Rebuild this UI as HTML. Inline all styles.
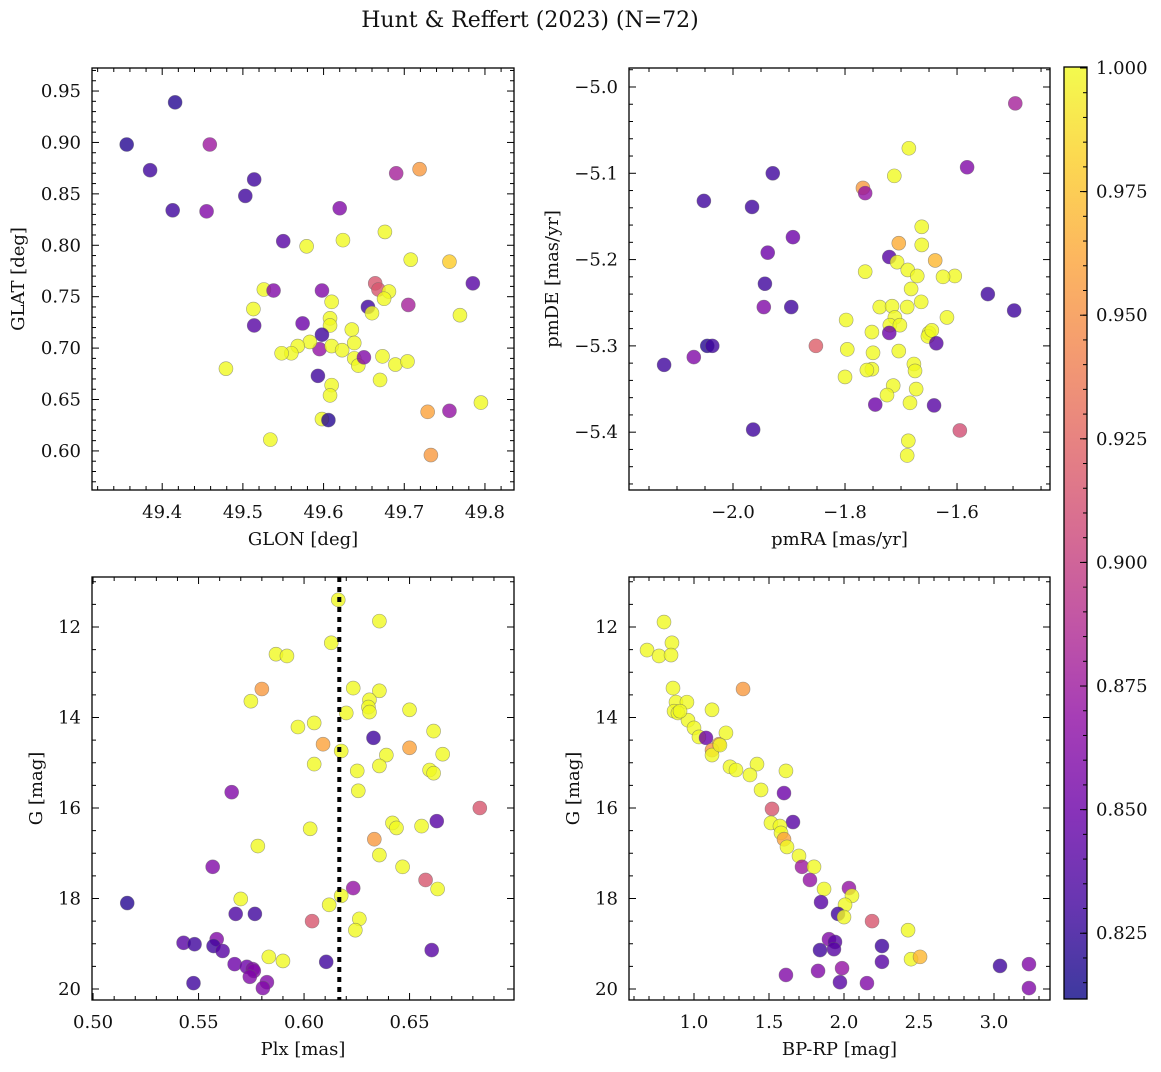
<!DOCTYPE html>
<html><head><meta charset="utf-8"><style>
body{margin:0;background:#fff;}
svg text{font-family:"DejaVu Serif","Liberation Serif",serif;fill:#111;}
</style></head><body>
<svg id="fig" width="1161" height="1067" xmlns="http://www.w3.org/2000/svg">
<defs>
<linearGradient id="plasma" x1="0" y1="1" x2="0" y2="0">
<stop offset="0" stop-color="#0d0887"/><stop offset="0.1" stop-color="#41049d"/><stop offset="0.2" stop-color="#6a00a8"/><stop offset="0.3" stop-color="#8f0da4"/><stop offset="0.4" stop-color="#b12a90"/><stop offset="0.5" stop-color="#cc4778"/><stop offset="0.6" stop-color="#e16462"/><stop offset="0.7" stop-color="#f2844b"/><stop offset="0.8" stop-color="#fca636"/><stop offset="0.9" stop-color="#fcce25"/><stop offset="1" stop-color="#f0f921"/>
</linearGradient>
</defs>
<text x="530" y="27" font-size="22" text-anchor="middle">Hunt &amp; Reffert (2023) (N=72)</text>
</svg>
<script>
// ---- data ----
const glon=[49.356,49.416,49.385,49.459,49.413,49.455,49.514,49.503,49.550,49.579,49.620,49.624,49.690,49.719,49.676,49.513,49.526,49.538,49.514,49.574,49.598,49.756,49.785,49.708,49.769,49.664,49.668,49.655,49.705,49.681,49.675,49.660,49.610,49.608,49.608,49.598,49.595,49.583,49.568,49.560,49.548,49.479,49.593,49.610,49.623,49.635,49.638,49.638,49.643,49.650,49.673,49.670,49.689,49.704,49.610,49.608,49.598,49.606,49.534,49.729,49.756,49.795,49.733];
const glat=[0.898,0.939,0.873,0.898,0.834,0.833,0.864,0.848,0.804,0.799,0.836,0.805,0.870,0.874,0.813,0.738,0.757,0.756,0.722,0.724,0.756,0.784,0.763,0.786,0.732,0.763,0.757,0.740,0.742,0.755,0.748,0.734,0.745,0.729,0.722,0.713,0.699,0.706,0.702,0.695,0.695,0.680,0.673,0.702,0.698,0.718,0.705,0.690,0.683,0.691,0.692,0.669,0.684,0.687,0.664,0.654,0.631,0.630,0.611,0.638,0.639,0.647,0.596];
const prob1=[0.82,0.82,0.83,0.875,0.83,0.86,0.83,0.83,0.84,1,0.86,1,0.88,0.955,1,1,1,0.86,0.84,0.85,0.86,0.98,0.84,1,1,0.915,0.915,0.83,0.88,1,1,1,1,1,1,0.83,0.87,1,1,1,1,1,0.83,1,1,1,1,1,1,0.86,1,1,1,1,1,1,1,0.82,1,0.96,0.87,1,0.955];

const pmra=[-1.496,-1.582,-1.686,-1.712,-1.768,-1.764,-1.929,-2.052,-1.966,-1.893,-1.938,-1.663,-1.663,-1.704,-1.721,-1.639,-1.707,-1.688,-1.764,-1.604,-1.625,-1.671,-1.682,-1.664,-1.545,-1.498,-1.943,-1.945,-1.896,-1.738,-1.716,-1.689,-1.711,-1.618,-1.720,-1.702,-1.752,-1.798,-1.721,-1.650,-1.652,-1.645,-1.637,-1.704,-1.852,-2.046,-2.037,-2.070,-2.123,-1.796,-1.750,-1.752,-1.800,-1.677,-1.675,-1.761,-1.714,-1.725,-1.673,-1.684,-1.746,-1.641,-1.595,-1.964,-1.687,-1.689];
const pmde=[-5.019,-5.093,-5.071,-5.103,-5.117,-5.123,-5.100,-5.132,-5.139,-5.174,-5.192,-5.162,-5.183,-5.181,-5.197,-5.201,-5.203,-5.212,-5.214,-5.219,-5.220,-5.219,-5.234,-5.249,-5.240,-5.259,-5.228,-5.255,-5.255,-5.255,-5.254,-5.255,-5.267,-5.267,-5.276,-5.276,-5.284,-5.270,-5.285,-5.285,-5.289,-5.282,-5.297,-5.306,-5.300,-5.300,-5.300,-5.313,-5.322,-5.304,-5.308,-5.327,-5.336,-5.321,-5.329,-5.328,-5.346,-5.357,-5.350,-5.366,-5.368,-5.369,-5.398,-5.397,-5.410,-5.427];
const prob2=[0.88,0.86,1,1,0.955,0.87,0.83,0.83,0.83,0.85,0.85,1,1,0.965,0.84,0.97,1,1,1,1,1,1,1,1,0.83,0.83,0.83,0.86,0.83,1,1,1,1,1,1,1,1,1,0.85,1,1,1,0.84,1,0.92,0.82,0.83,0.86,0.83,1,1,1,1,1,1,1,1,1,1,1,0.85,0.84,0.91,0.83,1,1];

const plx=[0.6162,0.6357,0.6129,0.5867,0.5919,0.5800,0.5748,0.6233,0.6357,0.6310,0.6305,0.6310,0.6500,0.5971,0.6048,0.6200,0.6614,0.6329,0.6090,0.6176,0.6500,0.6657,0.6390,0.6048,0.6357,0.6252,0.6595,0.6614,0.5657,0.6257,0.6833,0.6029,0.6419,0.6438,0.6629,0.6557,0.6333,0.6357,0.5781,0.6467,0.5567,0.6576,0.6633,0.5162,0.5700,0.6233,0.6176,0.6119,0.5676,0.5767,0.6038,0.6262,0.6243,0.5429,0.5481,0.5586,0.5571,0.5614,0.6605,0.5833,0.5900,0.6105,0.5671,0.5729,0.5757,0.5762,0.5743,0.5824,0.5476,0.5805];
const gmag3=[11.40,11.87,12.35,12.60,12.64,13.37,13.64,13.35,13.41,13.61,13.77,13.88,13.83,14.21,14.12,13.90,14.30,14.45,14.59,14.74,14.67,14.81,14.83,15.03,15.07,15.18,15.16,15.23,15.65,15.62,16.00,16.46,16.33,16.44,16.29,16.40,16.69,17.04,16.84,17.30,17.30,17.59,17.79,18.10,18.01,17.77,17.94,18.14,18.34,18.34,18.50,18.45,18.70,18.98,19.01,18.90,19.05,19.16,19.14,19.29,19.38,19.40,19.45,19.51,19.56,19.60,19.73,19.85,19.87,19.98];
const prob3=[1,1,1,1,1,0.955,1,1,1,1,1,1,1,1,1,1,1,0.83,0.96,1,0.96,1,1,1,1,1,1,1,0.86,1,0.915,1,1,1,0.84,1,0.955,1,1,1,0.86,0.915,1,0.82,1,0.87,1,1,0.835,0.83,0.915,1,1,0.84,0.83,0.86,0.83,0.84,0.84,1,1,0.83,0.85,0.85,0.86,0.86,0.86,0.86,0.83,0.86];

const bprp=[0.800,0.687,0.853,0.767,0.847,0.860,0.880,0.953,0.867,0.893,1.327,0.960,0.907,1.120,1.000,1.033,1.080,1.167,1.120,1.213,1.120,1.173,1.240,1.280,1.420,1.373,1.613,1.447,1.600,1.660,1.520,1.513,1.573,1.580,1.600,1.620,1.700,1.720,1.800,1.773,1.867,2.033,2.053,1.847,2.007,1.960,2.000,2.187,2.427,1.900,1.940,1.933,1.840,2.253,2.447,2.507,2.253,3.040,3.233,1.987,1.827,1.613,1.973,2.153,3.233];
const gmag4=[11.89,12.51,12.35,12.64,12.62,13.35,13.66,13.66,13.86,13.90,13.37,14.06,13.86,13.83,14.23,14.43,14.45,14.59,14.72,14.34,14.83,14.61,15.09,15.16,15.03,15.27,15.18,15.60,15.67,16.31,16.02,16.33,16.40,16.55,16.69,16.86,17.06,17.30,17.30,17.59,17.79,17.77,17.94,18.08,18.14,18.34,18.41,18.50,18.70,18.90,18.96,19.12,19.14,19.05,19.34,19.29,19.40,19.49,19.45,19.54,19.60,19.69,19.85,19.87,19.98];
const prob4=[1,1,1,1,1,1,1,1,1,1,0.955,1,1,1,1,1,0.85,0.96,0.955,1,1,1,1,1,1,1,1,1,0.85,0.84,0.915,1,1,1,0.96,1,1,0.875,1,0.87,1,0.87,1,0.84,1,0.83,1,0.915,1,0.86,0.84,0.84,0.83,0.83,1,0.97,0.84,0.83,0.86,0.87,0.86,0.86,0.84,0.86,0.86];

const cbTicks=[0.825,0.850,0.875,0.900,0.925,0.950,0.975,1.000];
const plxLine=0.6167;

// ---- helpers ----
const NS="http://www.w3.org/2000/svg";
const fig=document.getElementById('fig');
function mk(tag,attrs,parent){const e=document.createElementNS(NS,tag);for(const k in attrs)e.setAttribute(k,attrs[k]);(parent||fig).appendChild(e);return e;}
const stops=[[13,8,135],[65,4,157],[106,0,168],[143,13,164],[177,42,144],[204,71,120],[225,100,98],[242,132,75],[252,166,54],[252,206,37],[240,249,33]];
const VMIN=0.8117,VMAX=1.0002;
function plasma(v){let t=(v-VMIN)/(VMAX-VMIN);t=Math.max(0,Math.min(1,t))*10;const i=Math.min(9,Math.floor(t)),f=t-i;const a=stops[i],b=stops[i+1];return 'rgb('+a.map((c,k)=>Math.round(c+(b[k]-c)*f)).join(',')+')';}
function fmt(v,d){return v<0?'\u2212'+(-v).toFixed(d):v.toFixed(d);}

function panel(o){
  const g=mk('g',{});
  
  
  const sx=v=>o.x0+(v-o.xmin)/(o.xmax-o.xmin)*(o.x1-o.x0);
  const sy=v=>o.y1-(v-o.ymin)/(o.ymax-o.ymin)*(o.y1-o.y0);
  const pg=mk('g',{},g);
  
  
  for(let i=0;i<o.xs.length;i++){
    const c=mk('circle',{cx:sx(o.xs[i]),cy:sy(o.ys[i]),r:7,fill:plasma(o.ps[i]),'fill-opacity':0.8,stroke:'#666','stroke-opacity':0.6,'stroke-width':0.6},pg);
    
    
  }
  if(o.vline!==undefined){
    const l=mk('line',{x1:sx(o.vline),x2:sx(o.vline),y1:o.y0,y2:o.y1,stroke:'#000','stroke-width':4,'stroke-dasharray':'5,5'},g);
    
    
  }
  const tg=mk('g',{stroke:'#000','stroke-width':1},g);
  const eps=1e-9;
  const xlo=Math.min(o.xmin,o.xmax),xhi=Math.max(o.xmin,o.xmax);
  const ylo=Math.min(o.ymin,o.ymax),yhi=Math.max(o.ymin,o.ymax);
  for(let k=Math.ceil(xlo/o.xminor-eps);k*o.xminor<=xhi+eps;k++){
    const v=k*o.xminor,x=sx(v);const maj=Math.abs(v/o.xmajor-Math.round(v/o.xmajor))<1e-6;const L=maj?7:4;
    mk('line',{x1:x,x2:x,y1:o.y1,y2:o.y1-L},tg);mk('line',{x1:x,x2:x,y1:o.y0,y2:o.y0+L},tg);
    if(maj){const t=mk('text',{x:x,y:o.y1+28,'font-size':18,'text-anchor':'middle',stroke:'none'},g);t.textContent=fmt(v,o.xd);}
  }
  for(let k=Math.ceil(ylo/o.yminor-eps);k*o.yminor<=yhi+eps;k++){
    const v=k*o.yminor,y=sy(v);const maj=Math.abs(v/o.ymajor-Math.round(v/o.ymajor))<1e-6;const L=maj?7:4;
    mk('line',{x1:o.x0,x2:o.x0+L,y1:y,y2:y},tg);mk('line',{x1:o.x1,x2:o.x1-L,y1:y,y2:y},tg);
    if(maj){const t=mk('text',{x:o.x0-11,y:y+6,'font-size':18,'text-anchor':'end',stroke:'none'},g);t.textContent=fmt(v,o.yd);}
  }
  const fr=mk('rect',{x:o.x0,y:o.y0,width:o.x1-o.x0,height:o.y1-o.y0,fill:'none',stroke:'#000','stroke-width':1.3},g);
  
  
  const xt=mk('text',{x:(o.x0+o.x1)/2,y:o.y1+55,'font-size':18,'text-anchor':'middle'},g);
  xt.textContent=o.xlabel;
  
  
  const yt=mk('text',{x:0,y:0,'font-size':18,'text-anchor':'middle',transform:'translate('+o.ylx+','+((o.y0+o.y1)/2)+') rotate(-90)'},g);
  yt.textContent=o.ylabel;
  
  
}

panel({name:'sky-position-panel',x0:92,x1:514,y0:68,y1:490,xmin:49.313,xmax:49.836,ymin:0.562,ymax:0.9724,xmajor:0.1,xminor:0.02,ymajor:0.05,yminor:0.01,xd:1,yd:2,xs:glon,ys:glat,ps:prob1,xlabel:'GLON [deg]',ylabel:'GLAT [deg]',ylx:24});
panel({name:'proper-motion-panel',x0:629,x1:1050,y0:68,y1:490,xmin:-2.1857,xmax:-1.434,ymin:-5.467,ymax:-4.978,xmajor:0.2,xminor:0.05,ymajor:0.1,yminor:0.02,xd:1,yd:1,xs:pmra,ys:pmde,ps:prob2,xlabel:'pmRA [mas/yr]',ylabel:'pmDE [mas/yr]',ylx:558});
panel({name:'parallax-magnitude-panel',x0:92,x1:514,y0:577,y1:1000,xmin:0.4995,xmax:0.6995,ymin:20.243,ymax:10.895,xmajor:0.05,xminor:0.01,ymajor:2,yminor:0.5,xd:2,yd:0,xs:plx,ys:gmag3,ps:prob3,xlabel:'Plx [mas]',ylabel:'G [mag]',ylx:42,vline:plxLine});
panel({name:'color-magnitude-panel',x0:629,x1:1050,y0:577,y1:1000,xmin:0.5667,xmax:3.3733,ymin:20.243,ymax:10.895,xmajor:0.5,xminor:0.1,ymajor:2,yminor:0.5,xd:1,yd:0,xs:bprp,ys:gmag4,ps:prob4,xlabel:'BP-RP [mag]',ylabel:'G [mag]',ylx:579});

// colorbar
const cb=mk('g',{});


const cby0=67,cby1=999;
const cbs=v=>cby1-(v-VMIN)/(VMAX-VMIN)*(cby1-cby0);
mk('rect',{x:1064,y:cby0,width:23,height:cby1-cby0,fill:'url(#plasma)','fill-opacity':0.8},cb);
for(let v=0.815;v<=1.0001;v+=0.005){const y=cbs(v);mk('line',{x1:1087,x2:1083,y1:y,y2:y,stroke:'#000','stroke-width':1},cb);}
cbTicks.forEach(v=>{const y=cbs(v);mk('line',{x1:1087,x2:1080,y1:y,y2:y,stroke:'#000','stroke-width':1},cb);
  const t=mk('text',{x:1096,y:y+6,'font-size':18},cb);t.textContent=v.toFixed(3);
  
  });
mk('rect',{x:1064,y:cby0,width:23,height:cby1-cby0,fill:'none',stroke:'#000','stroke-width':1.3},cb);
</script>
</body></html>
